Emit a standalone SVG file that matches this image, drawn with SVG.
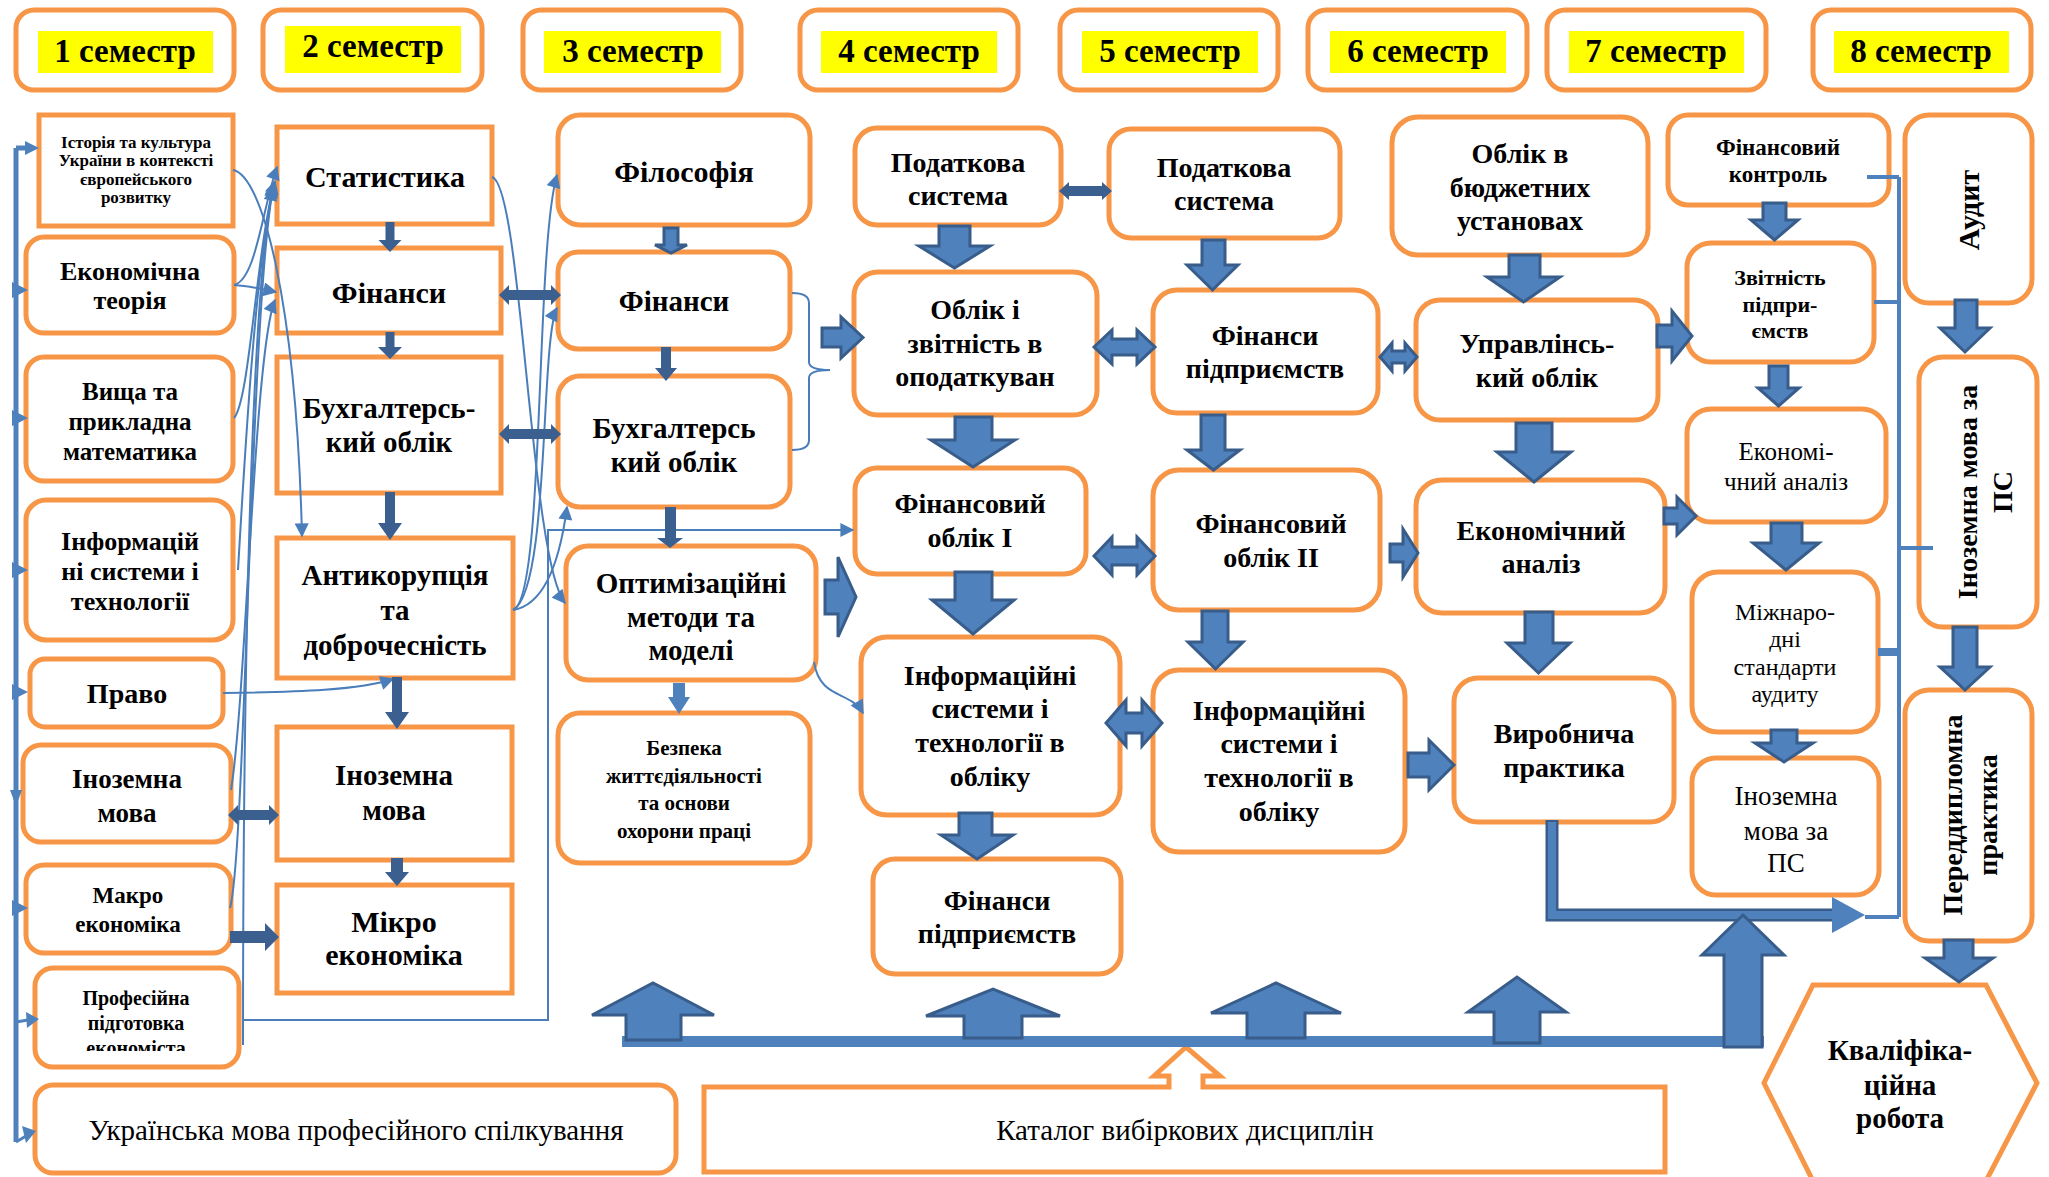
<svg xmlns="http://www.w3.org/2000/svg" width="2049" height="1177" viewBox="0 0 2049 1177">
<style>
.box{fill:#fff;stroke:#F79646;stroke-width:5}
.yl{fill:#FFFF00}
.t{font-family:"Liberation Serif","Times New Roman",serif;font-weight:bold;text-anchor:middle;fill:#000}
.r{font-weight:normal}
.fat{fill:#4F81BD;stroke:#385D8A;stroke-width:3;stroke-linejoin:miter}
.dk{fill:#3B5F8F}
.thin{fill:none;stroke:#4A7EBB;stroke-width:2}
.bl{fill:none;stroke:#4F81BD}
.tri{fill:#4F81BD}
</style>
<defs>
<marker id="ta" viewBox="0 0 10 10" refX="9" refY="5" markerWidth="15" markerHeight="14" markerUnits="userSpaceOnUse" orient="auto"><path d="M0,0 L10,5 L0,10 z" fill="#4A7EBB"/></marker>
<clipPath id="clipProf"><rect x="35" y="968" width="204" height="83"/></clipPath>
</defs>
<rect width="2049" height="1177" fill="#fff"/>

<!-- semesters -->
<g id="sem1"><rect class="box" x="16" y="10" width="218" height="80" rx="18"/><rect class="yl" x="38" y="31" width="175" height="42"/><text class="t" x="125" y="62" font-size="33">1 семестр</text></g>
<g id="sem2"><rect class="box" x="263" y="10" width="219" height="80" rx="18"/><rect class="yl" x="285" y="26" width="176" height="47"/><text class="t" x="373" y="57" font-size="33">2 семестр</text></g>
<g id="sem3"><rect class="box" x="523" y="10" width="218" height="80" rx="18"/><rect class="yl" x="544" y="31" width="177" height="42"/><text class="t" x="633" y="62" font-size="33">3 семестр</text></g>
<g id="sem4"><rect class="box" x="800" y="10" width="218" height="80" rx="18"/><rect class="yl" x="821" y="31" width="176" height="42"/><text class="t" x="909" y="62" font-size="33">4 семестр</text></g>
<g id="sem5"><rect class="box" x="1060" y="10" width="218" height="80" rx="18"/><rect class="yl" x="1082" y="31" width="176" height="42"/><text class="t" x="1170" y="62" font-size="33">5 семестр</text></g>
<g id="sem6"><rect class="box" x="1308" y="10" width="219" height="80" rx="18"/><rect class="yl" x="1330" y="31" width="176" height="42"/><text class="t" x="1418" y="62" font-size="33">6 семестр</text></g>
<g id="sem7"><rect class="box" x="1547" y="10" width="219" height="80" rx="18"/><rect class="yl" x="1569" y="31" width="175" height="42"/><text class="t" x="1656" y="62" font-size="33">7 семестр</text></g>
<g id="sem8"><rect class="box" x="1813" y="10" width="218" height="80" rx="18"/><rect class="yl" x="1834" y="31" width="175" height="42"/><text class="t" x="1921" y="62" font-size="33">8 семестр</text></g>

<!-- column 1 -->
<g id="n-istoriia"><rect class="box" x="39" y="115" width="194" height="111"/><text class="t" font-size="17"><tspan x="136" y="148">Історія та культура</tspan><tspan x="136" y="166">України в контексті</tspan><tspan x="136" y="185">європейського</tspan><tspan x="136" y="203">розвитку</tspan></text></g>
<g id="n-ekteoriia"><rect class="box" x="26" y="237" width="208" height="96" rx="18"/><text class="t" font-size="26"><tspan x="130" y="280">Економічна</tspan><tspan x="130" y="309">теорія</tspan></text></g>
<g id="n-vyshcha"><rect class="box" x="26" y="357" width="207" height="124" rx="18"/><text class="t" font-size="25"><tspan x="130" y="400">Вища та</tspan><tspan x="130" y="430">прикладна</tspan><tspan x="130" y="460">математика</tspan></text></g>
<g id="n-inform1"><rect class="box" x="26" y="500" width="207" height="140" rx="20"/><text class="t" font-size="26"><tspan x="130" y="550">Інформацій</tspan><tspan x="130" y="580">ні системи і</tspan><tspan x="130" y="610">технології</tspan></text></g>
<g id="n-pravo"><rect class="box" x="30" y="659" width="193" height="68" rx="15"/><text class="t" font-size="28" x="127" y="703">Право</text></g>
<g id="n-inozemna1"><rect class="box" x="23" y="745" width="208" height="97" rx="18"/><text class="t" font-size="27"><tspan x="127" y="788">Іноземна</tspan><tspan x="127" y="822">мова</tspan></text></g>
<g id="n-makro"><rect class="box" x="26" y="865" width="205" height="88" rx="18"/><text class="t" font-size="23"><tspan x="128" y="903">Макро</tspan><tspan x="128" y="932">економіка</tspan></text></g>
<g id="n-profesiina"><rect class="box" x="35" y="968" width="204" height="99" rx="18"/><text class="t" font-size="20" clip-path="url(#clipProf)"><tspan x="136" y="1005">Професійна</tspan><tspan x="136" y="1030">підготовка</tspan><tspan x="136" y="1055">економіста</tspan></text></g>
<g id="n-ukrmova"><rect class="box" x="35" y="1085" width="641" height="88" rx="18"/><text class="t r" font-size="29" x="356" y="1140">Українська мова професійного спілкування</text></g>

<!-- column 2 -->
<g id="n-statystyka"><rect class="box" x="277" y="127" width="215" height="97"/><text class="t" font-size="30" x="385" y="187">Статистика</text></g>
<g id="n-finansy2"><rect class="box" x="277" y="248" width="224" height="85"/><text class="t" font-size="30" x="389" y="303">Фінанси</text></g>
<g id="n-bukh2"><rect class="box" x="277" y="357" width="224" height="136"/><text class="t" font-size="29"><tspan x="389" y="418">Бухгалтерсь-</tspan><tspan x="389" y="452">кий облік</tspan></text></g>
<g id="n-antykor"><rect class="box" x="277" y="538" width="236" height="140"/><text class="t" font-size="29"><tspan x="395" y="585">Антикорупція</tspan><tspan x="395" y="620">та</tspan><tspan x="395" y="655">доброчесність</tspan></text></g>
<g id="n-inozemna2"><rect class="box" x="277" y="727" width="235" height="133"/><text class="t" font-size="29"><tspan x="394" y="785">Іноземна</tspan><tspan x="394" y="820">мова</tspan></text></g>
<g id="n-mikro"><rect class="box" x="277" y="885" width="235" height="108"/><text class="t" font-size="30"><tspan x="394" y="932">Мікро</tspan><tspan x="394" y="965">економіка</tspan></text></g>

<!-- column 3 -->
<g id="n-filosofiia"><rect class="box" x="558" y="115" width="252" height="110" rx="22"/><text class="t" font-size="30" x="684" y="182">Філософія</text></g>
<g id="n-finansy3"><rect class="box" x="558" y="252" width="232" height="97" rx="20"/><text class="t" font-size="29" x="674" y="311">Фінанси</text></g>
<g id="n-bukh3"><rect class="box" x="558" y="376" width="232" height="131" rx="22"/><text class="t" font-size="29"><tspan x="674" y="438">Бухгалтерсь</tspan><tspan x="674" y="472">кий облік</tspan></text></g>
<g id="n-optym"><rect class="box" x="566" y="546" width="250" height="134" rx="22"/><text class="t" font-size="29"><tspan x="691" y="593">Оптимізаційні</tspan><tspan x="691" y="627">методи та</tspan><tspan x="691" y="660">моделі</tspan></text></g>
<g id="n-bezpeka"><rect class="box" x="558" y="713" width="252" height="150" rx="22"/><text class="t" font-size="21"><tspan x="684" y="755">Безпека</tspan><tspan x="684" y="783">життєдіяльності</tspan><tspan x="684" y="810">та основи</tspan><tspan x="684" y="838">охорони праці</tspan></text></g>

<!-- column 4 -->
<g id="n-podatkova4"><rect class="box" x="855" y="128" width="206" height="97" rx="22"/><text class="t" font-size="28"><tspan x="958" y="172">Податкова</tspan><tspan x="958" y="205">система</tspan></text></g>
<g id="n-oblik-opod"><rect class="box" x="854" y="272" width="243" height="143" rx="24"/><text class="t" font-size="28"><tspan x="975" y="319">Облік і</tspan><tspan x="975" y="353">звітність в</tspan><tspan x="975" y="386">оподаткуван</tspan></text></g>
<g id="n-finoblik1"><rect class="box" x="855" y="468" width="231" height="106" rx="22"/><text class="t" font-size="28"><tspan x="970" y="513">Фінансовий</tspan><tspan x="970" y="547">облік I</tspan></text></g>
<g id="n-inform4"><rect class="box" x="861" y="637" width="259" height="178" rx="26"/><text class="t" font-size="28"><tspan x="990" y="685">Інформаційні</tspan><tspan x="990" y="718">системи і</tspan><tspan x="990" y="752">технології в</tspan><tspan x="990" y="786">обліку</tspan></text></g>
<g id="n-finpidpr4"><rect class="box" x="873" y="859" width="248" height="115" rx="22"/><text class="t" font-size="28"><tspan x="997" y="910">Фінанси</tspan><tspan x="997" y="943">підприємств</tspan></text></g>

<!-- column 5 -->
<g id="n-podatkova5"><rect class="box" x="1109" y="129" width="231" height="109" rx="22"/><text class="t" font-size="28"><tspan x="1224" y="177">Податкова</tspan><tspan x="1224" y="210">система</tspan></text></g>
<g id="n-finpidpr5"><rect class="box" x="1153" y="290" width="225" height="123" rx="24"/><text class="t" font-size="28"><tspan x="1265" y="345">Фінанси</tspan><tspan x="1265" y="378">підприємств</tspan></text></g>
<g id="n-finoblik2"><rect class="box" x="1153" y="470" width="227" height="140" rx="26"/><text class="t" font-size="28"><tspan x="1271" y="533">Фінансовий</tspan><tspan x="1271" y="567">облік II</tspan></text></g>
<g id="n-inform5"><rect class="box" x="1153" y="670" width="252" height="182" rx="26"/><text class="t" font-size="28"><tspan x="1279" y="720">Інформаційні</tspan><tspan x="1279" y="753">системи і</tspan><tspan x="1279" y="787">технології в</tspan><tspan x="1279" y="821">обліку</tspan></text></g>

<!-- column 6 -->
<g id="n-biudzhet"><rect class="box" x="1392" y="117" width="256" height="138" rx="26"/><text class="t" font-size="28"><tspan x="1520" y="163">Облік в</tspan><tspan x="1520" y="197">бюджетних</tspan><tspan x="1520" y="230">установах</tspan></text></g>
<g id="n-upravl"><rect class="box" x="1416" y="300" width="242" height="120" rx="24"/><text class="t" font-size="28"><tspan x="1537" y="353">Управлінсь-</tspan><tspan x="1537" y="387">кий облік</tspan></text></g>
<g id="n-ekanaliz6"><rect class="box" x="1416" y="480" width="249" height="133" rx="26"/><text class="t" font-size="28"><tspan x="1541" y="540">Економічний</tspan><tspan x="1541" y="573">аналіз</tspan></text></g>
<g id="n-vyrobn"><rect class="box" x="1454" y="678" width="220" height="144" rx="24"/><text class="t" font-size="28"><tspan x="1564" y="743">Виробнича</tspan><tspan x="1564" y="777">практика</tspan></text></g>

<!-- column 7 -->
<g id="n-finkontrol"><rect class="box" x="1668" y="115" width="221" height="90" rx="20"/><text class="t" font-size="23"><tspan x="1778" y="155">Фінансовий</tspan><tspan x="1778" y="182">контроль</tspan></text></g>
<g id="n-zvitnist"><rect class="box" x="1687" y="243" width="187" height="119" rx="24"/><text class="t" font-size="22"><tspan x="1780" y="285">Звітність</tspan><tspan x="1780" y="312">підпри-</tspan><tspan x="1780" y="338">ємств</tspan></text></g>
<g id="n-ekanaliz7"><rect class="box" x="1687" y="409" width="199" height="113" rx="24"/><text class="t r" font-size="25"><tspan x="1786" y="460">Економі-</tspan><tspan x="1786" y="490">чний аналіз</tspan></text></g>
<g id="n-mizhnar"><rect class="box" x="1692" y="572" width="186" height="160" rx="26"/><text class="t r" font-size="24"><tspan x="1785" y="620">Міжнаро-</tspan><tspan x="1785" y="647">дні</tspan><tspan x="1785" y="675">стандарти</tspan><tspan x="1785" y="702">аудиту</tspan></text></g>
<g id="n-inozemna7"><rect class="box" x="1692" y="758" width="187" height="137" rx="24"/><text class="t r" font-size="27"><tspan x="1786" y="805">Іноземна</tspan><tspan x="1786" y="840">мова за</tspan><tspan x="1786" y="872">ПС</tspan></text></g>

<!-- column 8 -->
<g id="n-audyt"><rect class="box" x="1905" y="115" width="127" height="188" rx="24"/><text class="t" font-size="30" transform="translate(1968,210) rotate(-90)" x="0" y="11">Аудит</text></g>
<g id="n-inozemna8"><rect class="box" x="1919" y="357" width="118" height="270" rx="24"/><text class="t" font-size="28" transform="translate(1966,492) rotate(-90)"><tspan x="0" y="11">Іноземна мова за</tspan><tspan x="0" y="46">ПС</tspan></text></g>
<g id="n-peredd"><rect class="box" x="1905" y="690" width="127" height="251" rx="24"/><text class="t" font-size="28" transform="translate(1951,815) rotate(-90)"><tspan x="0" y="11">Переддипломна</tspan><tspan x="0" y="46">практика</tspan></text></g>
<g id="n-kvalif"><polygon class="box" points="1813,985 1986,985 2037,1083 1986,1181 1813,1181 1764,1083"/><text class="t" font-size="29"><tspan x="1900" y="1060">Кваліфіка-</tspan><tspan x="1900" y="1095">ційна</tspan><tspan x="1900" y="1128">робота</tspan></text></g>
<g id="n-katalog"><path class="box" d="M704,1087 L1169,1087 L1169,1076 L1154,1076 L1186,1047 L1220,1076 L1203,1076 L1203,1087 L1665,1087 L1665,1172 L704,1172 Z"/><text class="t r" font-size="29" x="1185" y="1140">Каталог вибіркових дисциплін</text></g>

<g id="connectors">
<!-- left spine -->
<path class="bl" stroke-width="5" d="M16,148 L16,1142 M16,148 L27,148"/>
<polygon class="tri" points="25,141 39,148 25,155"/>
<polygon class="tri" points="12,282 28,290 12,298"/>
<polygon class="tri" points="12,410 28,418 12,426"/>
<polygon class="tri" points="12,562 28,570 12,578"/>
<polygon class="tri" points="12,684 28,692 12,700"/>
<polygon class="tri" points="10,790 22,790 16,806"/>
<polygon class="tri" points="12,900 28,908 12,916"/>
<path class="bl" stroke-width="3" d="M16,1022 L28,1020"/>
<polygon class="tri" points="26,1012 39,1019 27,1028"/>
<path class="bl" stroke-width="3" d="M16,1142 L26,1136"/>
<polygon class="tri" points="22,1126 36,1131 26,1143"/>

<!-- thin curves -->
<path class="thin" marker-end="url(#ta)" d="M233,170 C262,175 296,300 302,536"/>
<path class="thin" marker-end="url(#ta)" d="M234,285 C256,280 262,210 277,167"/>
<path class="thin" marker-end="url(#ta)" d="M234,285 C250,286 262,289 276,292"/>
<path class="thin" marker-end="url(#ta)" d="M234,418 C250,400 256,250 275,181"/>
<path class="thin" marker-end="url(#ta)" d="M238,570 C245,450 256,260 274,185"/>
<path class="thin" marker-end="url(#ta)" d="M230,908 C246,850 250,300 274,183"/>
<path class="thin" marker-end="url(#ta)" d="M243,1045 C243,700 250,300 273,188"/>
<path class="thin" marker-end="url(#ta)" d="M231,790 C246,700 254,350 275,300"/>
<path class="thin" stroke-width="3.5" marker-end="url(#ta)" d="M223,693 C300,692 360,690 393,679"/>
<path class="thin" marker-end="url(#ta)" d="M492,177 C522,185 530,560 565,603"/>
<path class="thin" marker-end="url(#ta)" d="M513,610 C545,600 535,250 557,175"/>
<path class="thin" marker-end="url(#ta)" d="M513,610 C550,590 540,340 557,308"/>
<path class="thin" marker-end="url(#ta)" d="M513,610 C545,605 560,560 567,507"/>
<path class="thin" marker-end="url(#ta)" d="M243,1020 L548,1020 L548,530 L853,530"/>
<path class="thin" marker-end="url(#ta)" d="M814,662 C820,700 850,690 863,713"/>
<path class="thin" d="M792,293 Q809,293 809,303 L809,362 Q809,370 830,370 Q809,370 809,378 L809,440 Q809,450 792,450"/>

<!-- dark narrow arrows col 2/3 -->
<polygon class="dk" points="385.5,222 394.5,222 394.5,240 401.5,240 390,252 378.5,240 385.5,240"/>
<polygon class="dk" points="385.5,332 394.5,332 394.5,347 402,347 390,359 378,347 385.5,347"/>
<polygon class="dk" points="385,492 395,492 395,523 402,523 390,540 378,523 385,523"/>
<polygon class="dk" points="392,677 402,677 402,712 409,712 397,729 385,712 392,712"/>
<polygon class="dk" points="391,858 403,858 403,872 409,872 397,886 385,872 391,872"/>
<polygon class="fat" stroke-width="2.5" points="664,228 678,228 678,245 687,245 671,253 655,245 664,245"/>
<polygon class="dk" points="661,347 671,347 671,368 677,368 666,381 655,368 661,368"/>
<polygon class="dk" points="665,507 676,507 676,538 683,538 670,548 657,538 665,538"/>
<polygon class="tri" points="673,683 685,683 685,697 690,697 679,714 668,697 673,697"/>
<polygon class="dk" points="499,295 509,285 509,290 551,290 551,285 561,295 551,305 551,300 509,300 509,305"/>
<polygon class="dk" points="499,434 509,424 509,429 551,429 551,424 561,434 551,444 551,439 509,439 509,444"/>
<polygon class="dk" points="228,815 238,805 238,810 269,810 269,805 279,815 269,825 269,820 238,820 238,825"/>
<polygon class="dk" points="1059,191 1069,182 1069,186 1102,186 1102,182 1112,191 1102,200 1102,196 1069,196 1069,200"/>
<polygon class="dk" points="230,931 265,931 265,923 279,937 265,951 265,943 230,943"/>

<!-- fat down arrows -->
<polygon class="fat" points="939,226 970,226 970,246 990,246 954.5,268 919,246 939,246"/>
<polygon class="fat" points="955,417 992,417 992,440 1015,440 973,467 931,440 955,440"/>
<polygon class="fat" points="955,572 992,572 992,600 1014,600 973,634 932,600 955,600"/>
<polygon class="fat" points="959,813 992,813 992,835 1013,835 977,859 941,835 959,835"/>
<polygon class="fat" points="1202,240 1225,240 1225,265 1238,265 1212.5,290 1187,265 1202,265"/>
<polygon class="fat" points="1201,415 1225,415 1225,450 1240,450 1213.5,470 1187,450 1201,450"/>
<polygon class="fat" points="1202,611 1228,611 1228,642 1243,642 1215.5,669 1188,642 1202,642"/>
<polygon class="fat" points="1509,255 1540,255 1540,277 1560,277 1523.5,302 1487,277 1509,277"/>
<polygon class="fat" points="1516,423 1552,423 1552,452 1571,452 1534,482 1497,452 1516,452"/>
<polygon class="fat" points="1525,612 1553,612 1553,643 1570,643 1538.5,673 1507,643 1525,643"/>
<polygon class="fat" points="1763,203 1786,203 1786,220 1798,220 1774.5,240 1751,220 1763,220"/>
<polygon class="fat" points="1769,366 1788,366 1788,388 1799,388 1778.5,406 1758,388 1769,388"/>
<polygon class="fat" points="1771,523 1802,523 1802,543 1819,543 1786,570 1753,543 1771,543"/>
<polygon class="fat" points="1771,730 1797,730 1797,743 1813,743 1784,762 1755,743 1771,743"/>
<polygon class="fat" points="1955,300 1977,300 1977,328 1990,328 1965,352 1940,328 1955,328"/>
<polygon class="fat" points="1953,627 1977,627 1977,667 1990,667 1965,690 1940,667 1953,667"/>
<polygon class="fat" points="1944,940 1973,940 1973,958 1993,958 1959,982 1925,958 1944,958"/>

<!-- fat right arrows -->
<polygon class="fat" points="822,328 841,328 841,317 863,337.5 841,358 841,347 822,347"/>
<polygon class="fat" points="825,580 838,580 838,557 856,597 838,637 838,614 825,614"/>
<polygon class="fat" points="1657,325 1672,325 1672,311 1692,336 1672,361 1672,347 1657,347"/>
<polygon class="fat" points="1664,508 1677,508 1677,497 1696,516 1677,535 1677,524 1664,524"/>
<polygon class="fat" points="1390,544 1403,544 1403,529 1418,553 1403,577 1403,562 1390,562"/>
<polygon class="fat" points="1408,753 1429,753 1429,740 1454,765 1429,790 1429,777 1408,777"/>

<!-- fat double arrows -->
<polygon class="fat" points="1094,347 1112,330 1112,339 1137,339 1137,330 1155,347 1137,364 1137,355 1112,355 1112,364"/>
<polygon class="fat" points="1094,556 1112,537 1112,547 1137,547 1137,537 1155,556 1137,575 1137,565 1112,565 1112,575"/>
<polygon class="fat" points="1106,723 1126,700 1126,713 1142,713 1142,700 1162,723 1142,746 1142,733 1126,733 1126,746"/>
<polygon class="fat" points="1380,357 1392,343 1392,351 1405,351 1405,343 1417,357 1405,371 1405,363 1392,363 1392,371"/>

<!-- right bracket lines (col 7/8) -->
<path class="bl" stroke-width="4" d="M1899,177 L1899,917 M1867,177 L1899,177 M1874,302 L1899,302 M1899,548 L1933,548 M1865,917 L1899,917"/>
<path class="bl" stroke-width="8" d="M1878,652 L1899,652"/>

<!-- bent arrow from Виробнича практика -->
<path fill="none" stroke="#385D8A" stroke-width="13" d="M1552,820 L1552,915 L1836,915"/>
<path fill="none" stroke="#4F81BD" stroke-width="8" d="M1552,822 L1552,915 L1836,915"/>
<polygon class="tri" points="1832,897 1865,915 1832,933"/>

<!-- bottom bar and up arrows -->
<rect x="622" y="1036" width="1142" height="11" fill="#4F81BD"/>
<polygon class="fat" points="626,1040 626,1015 592,1015 653,983 714,1015 681,1015 681,1040"/>
<polygon class="fat" points="964,1038 964,1016 926,1016 993,989 1060,1016 1022,1016 1022,1038"/>
<polygon class="fat" points="1247,1038 1247,1013 1211,1013 1276,983 1341,1013 1305,1013 1305,1038"/>
<polygon class="fat" points="1494,1043 1494,1012 1468,1012 1517,977 1566,1012 1540,1012 1540,1043"/>
<polygon class="fat" points="1724,1047 1724,955 1702,955 1743,915 1784,955 1762,955 1762,1047"/>
</g>
</svg>
